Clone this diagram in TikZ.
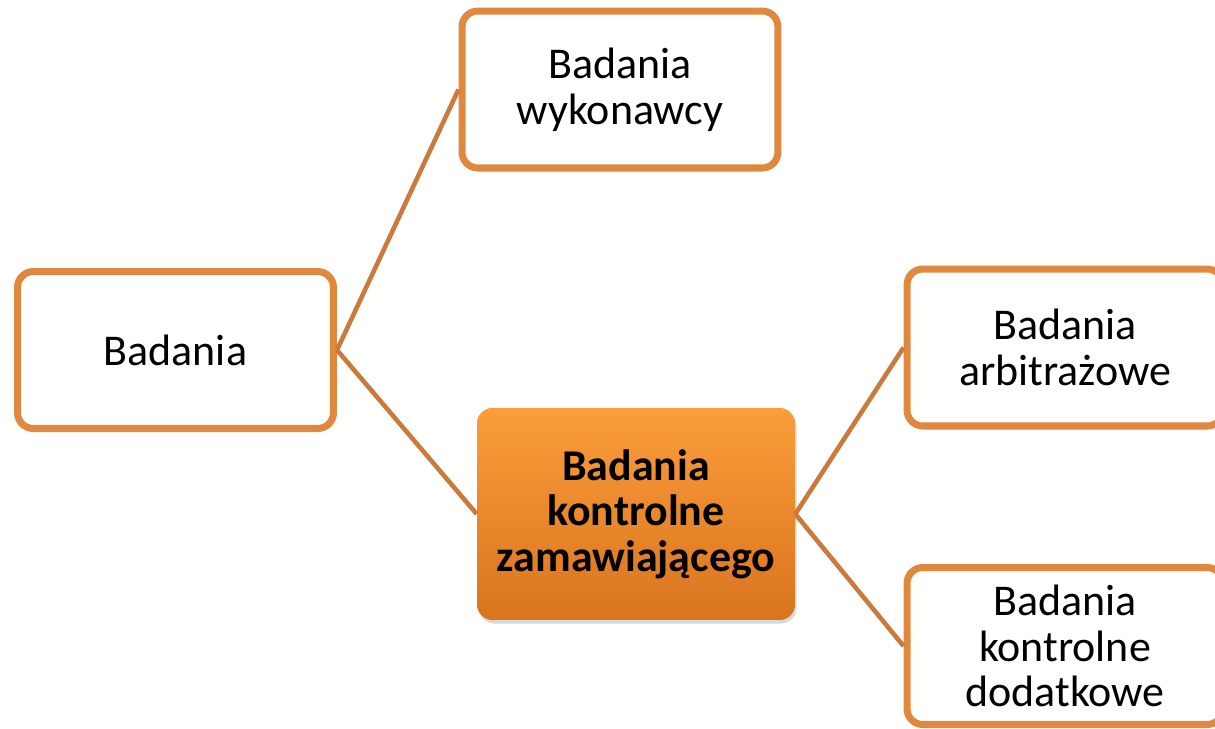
\documentclass[tikz,border=0pt]{standalone}
\usepackage{fontspec}
\setmainfont{Carlito}
\usetikzlibrary{shadows}
\definecolor{ramka}{HTML}{E0883E}
\definecolor{linia}{HTML}{CB7A3A}
\definecolor{pomgora}{HTML}{FB9D3A}
\definecolor{pomdol}{HTML}{D9741F}
\tikzset{
	box/.style={draw=ramka,line width=4pt,fill=white,rounded corners=9pt,
		minimum width=6.32cm,minimum height=3.14cm,align=center,
		font=\fontsize{25}{26}\selectfont,
		drop shadow={opacity=0.25,shadow xshift=1pt,shadow yshift=-1.5pt}},
	mainbox/.style={fill=pomdol,top color=pomgora,bottom color=pomdol,
		rounded corners=9pt,minimum width=6.36cm,minimum height=4.24cm,
		align=center,font=\fontsize{25}{26}\selectfont\bfseries,
		drop shadow={opacity=0.3,shadow xshift=1pt,shadow yshift=-2pt}},
	link/.style={draw=linia,line width=2.6pt}
}
\begin{document}
\begin{tikzpicture}[x=0.02cm,y=-0.02cm]
	\useasboundingbox (0,0) rectangle (1215,728);
	\node[box] (bad) at (175.5,350) {Badania};
	\node[box] (wyk) at (620,89.5) {Badania\\wykonawcy};
	\node[mainbox] (zam) at (636,514) {Badania\\kontrolne\\zamawiającego};
	\node[box] (arb) at (1065,347.5) {Badania\\arbitrażowe};
	\node[box] (dod) at (1065,646) {Badania\\kontrolne\\dodatkowe};
	
	\draw[link] (bad.east) -- (wyk.west);
	\draw[link] (bad.east) -- (zam.west);
	\draw[link] (zam.east) -- (arb.west);
	\draw[link] (zam.east) -- (dod.west);
\end{tikzpicture}
\end{document}
